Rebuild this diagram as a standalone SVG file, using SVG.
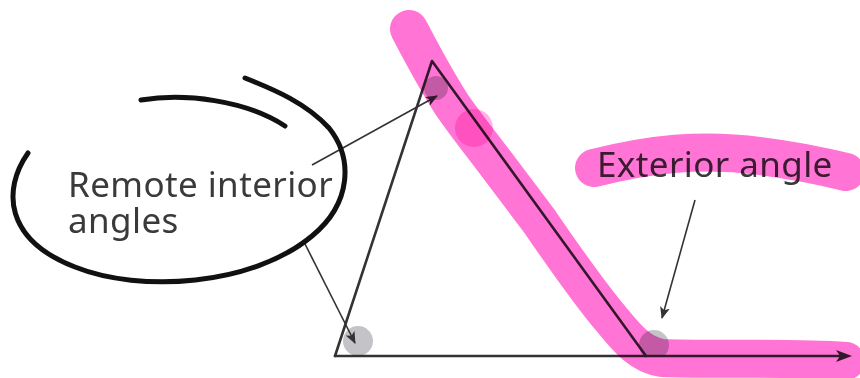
<svg xmlns="http://www.w3.org/2000/svg" width="860" height="378" viewBox="0 0 860 378">
<defs>
<style>
.txt{font-family:"Noto Sans","Open Sans","Liberation Sans",sans-serif;font-size:35px;letter-spacing:0.4px;fill:#3a3a3a}
.edge{stroke:#333;stroke-width:2.6;fill:none;stroke-linecap:round;stroke-linejoin:round}
.conn{stroke:#333;stroke-width:1.6;fill:none}
.mark{fill:#c4c4c8}
.hl{stroke:#ff74d4;fill:none;stroke-linecap:round;stroke-linejoin:round;mix-blend-mode:multiply}
.ink{stroke:#111;stroke-width:5;fill:none;stroke-linecap:round;stroke-linejoin:round}
</style>
<marker id="ah" viewBox="0 0 12 10" refX="11" refY="5" markerWidth="12" markerHeight="10" markerUnits="userSpaceOnUse" orient="auto">
<path d="M0,0 L12,5 L0,10 L3,5 z" fill="#333"/>
</marker>
<clipPath id="above"><rect x="0" y="0" width="860" height="356"/></clipPath>
</defs>
<rect width="860" height="378" fill="#fff"/>

<g id="angle-marks" clip-path="url(#above)">
<circle class="mark" cx="358" cy="341" r="15"/>
<circle class="mark" cx="436" cy="88" r="12"/>
<circle class="mark" cx="654" cy="345" r="15"/>
</g>

<g id="triangle">
<path class="edge" d="M335,356 L432,61 L646,356"/>
<path class="edge" d="M335,356 L840,356"/>
<path d="M852,356 L836,350 L840,356 L836,362 z" fill="#333"/>
</g>

<g id="connectors">
<line class="conn" x1="312" y1="165" x2="437" y2="96" marker-end="url(#ah)"/>
<line class="conn" x1="303" y1="240" x2="355" y2="343" marker-end="url(#ah)"/>
<line class="conn" x1="695" y1="200" x2="662" y2="318" marker-end="url(#ah)"/>
</g>

<g id="label-remote">
<text class="txt" x="68" y="197">Remote interior<tspan x="68" dy="36">angles</tspan></text>
</g>

<g id="label-exterior">
<text class="txt" x="597" y="177">Exterior angle</text>
</g>

<g id="highlighter">
<path class="hl" stroke-width="38" d="M409,29 C421,52 436,80 452,105 C468,128 482,145 497,165 L540,222 C562,254 588,292 612,320 C626,337 640,355 662,358 C705,360 785,357 846,361"/>
<circle cx="474" cy="128" r="19" fill="#ff74d4" opacity="0.55" style="mix-blend-mode:multiply"/>
<path class="hl" stroke-width="38" d="M594,168 C650,154 700,148 760,156 C800,161 830,168 846,172"/>
</g>

<g id="hand-ellipse">
<path class="ink" d="M28,153 C2,190 5,240 75,267 C140,293 252,286 312,236 C352,203 353,158 329,128 C306,103 275,90 245,78"/>
<path class="ink" d="M141,100 C185,93 245,100 285,126"/>
</g>
</svg>
